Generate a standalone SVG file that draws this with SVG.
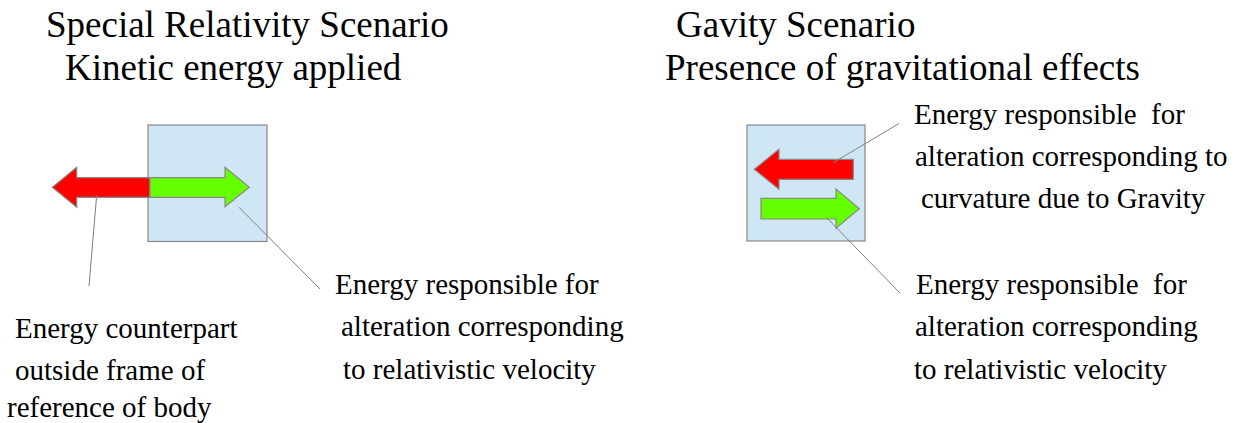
<svg xmlns="http://www.w3.org/2000/svg" width="1237" height="423" viewBox="0 0 1237 423">
<style>
text{font-family:"Liberation Serif","Times New Roman",serif;fill:#000;white-space:pre}
.t{font-size:37px}
.l{font-size:29px}
.box{fill:#cfe7f5;stroke:#888;stroke-width:1.2}
.red{fill:#ff0000;stroke:#888;stroke-width:1.2}
.grn{fill:#66ff00;stroke:#888;stroke-width:1.2}
.ld{stroke:#808080;stroke-width:1;fill:none}
</style>
<rect width="1237" height="423" fill="#fff"/>
<g id="title-left">
<text class="t" x="46" y="37">Special Relativity Scenario</text>
<text class="t" x="65" y="80">Kinetic energy applied</text>
</g>
<g id="title-right">
<text class="t" x="676" y="37">Gavity Scenario</text>
<text class="t" x="665" y="80">Presence of gravitational effects</text>
</g>
<g id="body-left">
<rect class="box" x="148" y="125" width="119" height="116.5"/>
<polygon class="red" points="150,177.7 76.7,177.7 76.7,167.3 52.3,187.3 76.7,207.3 76.7,197.3 150,197.3"/>
<polygon class="grn" points="150,177.7 225,177.7 225,167.3 249.3,187.3 225,206.7 225,197.3 150,197.3"/>
</g>
<g id="body-right">
<rect class="box" x="747" y="125" width="118" height="116"/>
<polygon class="red" points="853.3,159.3 779,159.3 779,149.3 754.3,169.3 779,189.3 779,179.3 853.3,179.3"/>
<polygon class="grn" points="761,198.3 836,198.3 836,189 859.3,208.7 836,228.3 836,219 761,219"/>
</g>
<g id="connectors">
<line class="ld" x1="96.7" y1="195" x2="89" y2="286"/>
<line class="ld" x1="239" y1="207.3" x2="320" y2="289"/>
<line class="ld" x1="833.3" y1="162.7" x2="899.3" y2="123.3"/>
<line class="ld" x1="826.7" y1="217.7" x2="900" y2="293"/>
</g>
<g id="label-counterpart">
<text class="l" x="15" y="338">Energy counterpart</text>
<text class="l" x="15" y="380">outside frame of</text>
<text class="l" x="7" y="417">reference of body</text>
</g>
<g id="label-left-velocity">
<text class="l" x="335" y="294">Energy responsible for</text>
<text class="l" x="341" y="336">alteration corresponding</text>
<text class="l" x="343" y="379">to relativistic velocity</text>
</g>
<g id="label-gravity">
<text class="l" x="914" y="124">Energy responsible  for</text>
<text class="l" x="915" y="166">alteration corresponding to</text>
<text class="l" x="921" y="208">curvature due to Gravity</text>
</g>
<g id="label-right-velocity">
<text class="l" x="916" y="294">Energy responsible  for</text>
<text class="l" x="915" y="336">alteration corresponding</text>
<text class="l" x="914" y="379">to relativistic velocity</text>
</g>
</svg>
